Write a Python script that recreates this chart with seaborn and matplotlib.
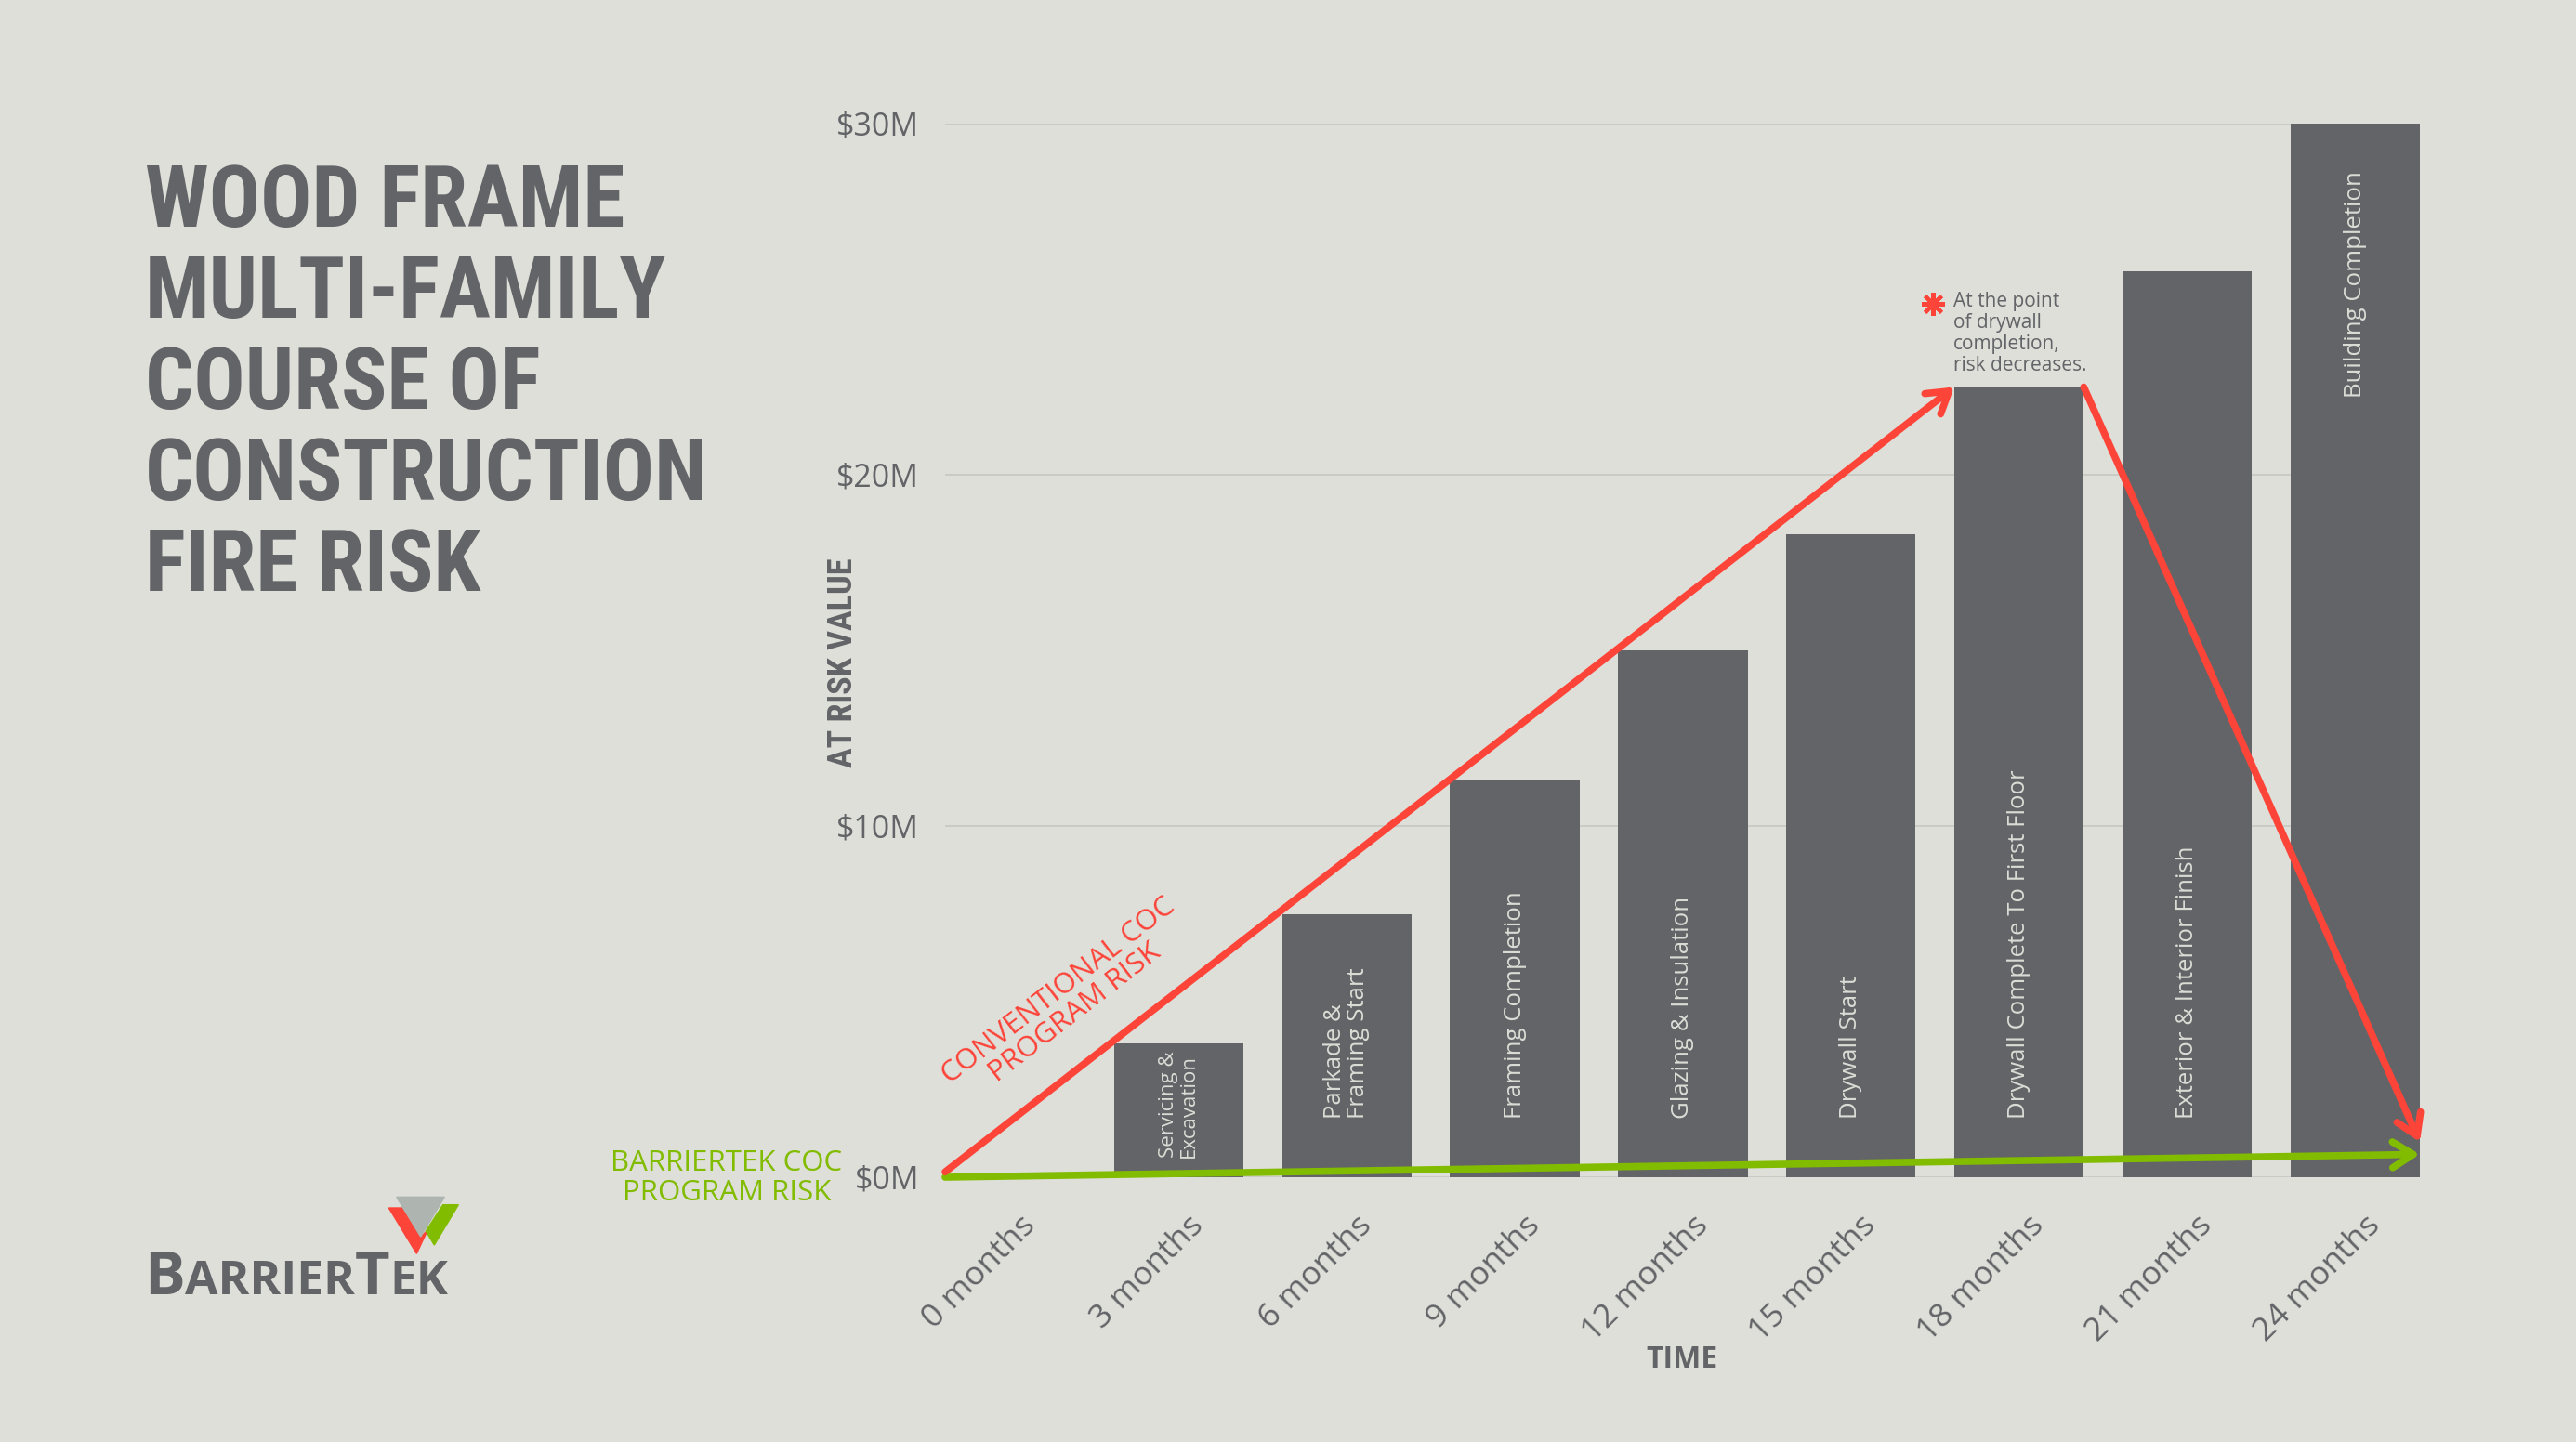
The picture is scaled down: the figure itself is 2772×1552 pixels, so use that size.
import numpy as np
import pandas as pd
import matplotlib
matplotlib.use('Agg')
import matplotlib.pyplot as plt
from matplotlib import font_manager as fm
from matplotlib.patches import Polygon
from matplotlib.transforms import ScaledTranslation
import seaborn as sns

# ---- data ----
months = ['0 months', '3 months', '6 months', '9 months', '12 months',
          '15 months', '18 months', '21 months', '24 months']
at_risk = [0, 3.8, 7.5, 11.3, 15.0, 18.3, 22.5, 25.8, 30.0]   # $M
stages = ['', 'Servicing &\nExcavation', 'Parkade &\nFraming Start',
          'Framing Completion', 'Glazing & Insulation', 'Drywall Start',
          'Drywall Complete To First Floor', 'Exterior & Interior Finish',
          'Building Completion']
y_ticks = [0, 10, 20, 30]
y_tick_labels = [r'\$0M', r'\$10M', r'\$20M', r'\$30M']
# conventional COC risk: start, peak at drywall completion, end
conv_risk = [0.15, 22.5, 1.0]
# barriertek COC risk: start, end
bt_risk = [0.0, 0.65]
title_lines = ['WOOD FRAME', 'MULTI-FAMILY', 'COURSE OF', 'CONSTRUCTION', 'FIRE RISK']

BG = '#dfdfd9'
GREY = '#636468'
RED = '#fd4439'
GREEN = '#82bc00'
BAR_TXT = '#dcdcd6'

sns.set_theme(style='white')
plt.rcParams['font.family'] = ['Open Sans', 'DejaVu Sans']

# pick a condensed face for the heavy headings
ttf = fm.fontManager.ttflist
names = {f.name for f in ttf}
cond = None
for cand in ['Liberation Sans Narrow', 'Roboto Condensed', 'DejaVu Sans Condensed',
             'Open Sans Condensed']:
    if cand in names:
        cond = dict(family=cand)
        break
if cond is None and any(f.name == 'DejaVu Sans' and 'condensed' in str(f.stretch) for f in ttf):
    cond = dict(family='DejaVu Sans', stretch='condensed')
if cond is None:
    cond = dict(family='Roboto')

W, H = 2772, 1552
fig = plt.figure(figsize=(W / 100, H / 100), dpi=100, facecolor=BG)
ax = fig.add_axes([1017 / W, (H - 1267) / H, (2604 - 1017) / W, (1267 - 133) / H])
ax.set_facecolor(BG)
renderer = fig.canvas.get_renderer()

bar_w = 0.77
df = pd.DataFrame({'month': months, 'risk': at_risk})
sns.barplot(data=df, x='month', y='risk', color=GREY, saturation=1,
            width=bar_w, ax=ax, linewidth=0, zorder=2)

ax.set_xlim(-0.39, 8.385)
ax.set_ylim(0, 30)
sns.despine(ax=ax, left=True, bottom=True)
ax.yaxis.grid(True, color='#c8c8c2', lw=1.2)
ax.set_axisbelow(True)
ax.set_xlabel('')
ax.set_ylabel('')

ax.set_yticks(y_ticks)
ax.set_yticklabels(y_tick_labels, fontsize=24.5, color=GREY)
ax.tick_params(axis='y', length=0, pad=20)
ax.set_xticks(range(len(months)))
ax.set_xticklabels(months, rotation=45, ha='right', va='top',
                   rotation_mode='anchor', fontsize=25.5, color=GREY)
ax.tick_params(axis='x', length=0, pad=25)
for lab in ax.get_xticklabels():
    lab.set_transform(lab.get_transform() + ScaledTranslation(0.1, 0, fig.dpi_scale_trans))

ylab = ax.text(-0.0693, 0.488, 'AT RISK VALUE', transform=ax.transAxes, rotation=90,
               ha='center', va='center', fontsize=24, fontweight='bold',
               color=GREY, **cond)
ext = ylab.get_window_extent(renderer)
ylab.set_fontsize(24 * 226 / ext.height)
ax.text(0.5, -0.1737, 'TIME', transform=ax.transAxes, ha='center', va='center',
        fontsize=23, fontweight='bold', color=GREY)

# stage names inside bars
for i, (lab, v) in enumerate(zip(stages, at_risk)):
    if not lab:
        continue
    if i == len(stages) - 1:
        y, va, fs = v - 1.35, 'top', 18.5
    elif i == 1:
        y, va, fs = 0.55, 'bottom', 16
    else:
        y, va, fs = 1.67, 'bottom', 18.5
    ax.text(i, y, lab, rotation=90, ha='center', va=va, multialignment='left',
            color=BAR_TXT, fontsize=fs, linespacing=1.0, zorder=3)

# risk lines
x0, x1 = ax.get_xlim()
peak = months.index('18 months')
arrow = dict(arrowstyle='->,head_length=0.4,head_width=0.25', lw=5.5,
             shrinkA=0, shrinkB=0, mutation_scale=40, capstyle='round')
ax.annotate('', xy=(x1, bt_risk[1]), xytext=(x0, bt_risk[0]),
            arrowprops=dict(color=GREEN, **arrow), annotation_clip=False, zorder=5)
ax.annotate('', xy=(peak - bar_w / 2, conv_risk[1]), xytext=(x0, conv_risk[0]),
            arrowprops=dict(color=RED, **arrow), annotation_clip=False, zorder=6)
ax.annotate('', xy=(x1, conv_risk[2]), xytext=(peak + bar_w / 2, conv_risk[1]),
            arrowprops=dict(color=RED, **arrow), annotation_clip=False, zorder=6)

ax.text(0.333, 5.0, 'CONVENTIONAL COC\nPROGRAM RISK', rotation=37.7,
        rotation_mode='anchor', ha='center', va='center', multialignment='center',
        fontsize=22.5, color=RED, linespacing=1.0)
fig.text(782 / W, 1 - 1268 / H, 'BARRIERTEK COC\nPROGRAM RISK', ha='center',
         va='center', fontsize=22.5, color=GREEN, linespacing=1.1)

# drywall note
ax.plot([peak - bar_w / 2 - 0.13], [conv_risk[1] + 2.37], marker=(8, 2, 0),
        ms=18, mew=3, color=RED, clip_on=False, zorder=6)
ax.text(peak - bar_w / 2 - 0.008, conv_risk[1] + 2.72,
        'At the point\nof drywall\ncompletion,\nrisk decreases.',
        fontsize=15, color=GREY, va='top', ha='left', linespacing=1.13)

# title, sized so that the widest line spans the same width as the original
heads = [fig.text(156 / W, 1 - (244 + 98 * i) / H, line, fontsize=64, fontweight='bold',
                  color=GREY, va='baseline', **cond)
         for i, line in enumerate(title_lines)]
widest = max(h.get_window_extent(renderer).width for h in heads)
for h in heads:
    h.set_fontsize(64 * 605 / widest)

# logo
def fp(pts):
    return [((130 + px / 3) / W, 1 - (1260 + py / 3) / H) for px, py in pts]

fig.patches.append(Polygon(fp([(865, 120), (910, 120), (968, 213), (990, 193), (955, 268)]),
                           closed=True, transform=fig.transFigure, color=RED))
fig.patches.append(Polygon(fp([(1040, 110), (1090, 110), (1012, 240), (985, 195)]),
                           closed=True, transform=fig.transFigure, color=GREEN))
fig.patches.append(Polygon(fp([(890, 85), (1045, 85), (968, 213)]),
                           closed=True, transform=fig.transFigure, color='#aeb5b1'))

lx = 155
for txt, size in [('B', 47), ('ARRIER', 37), ('T', 47), ('EK', 37)]:
    t = fig.text(lx / W, 1 - 1393 / H, txt, fontsize=size, fontweight='bold',
                 color=GREY, va='baseline')
    lx = t.get_window_extent(renderer).x1

fig.savefig('out.png', dpi=100, facecolor=BG)
